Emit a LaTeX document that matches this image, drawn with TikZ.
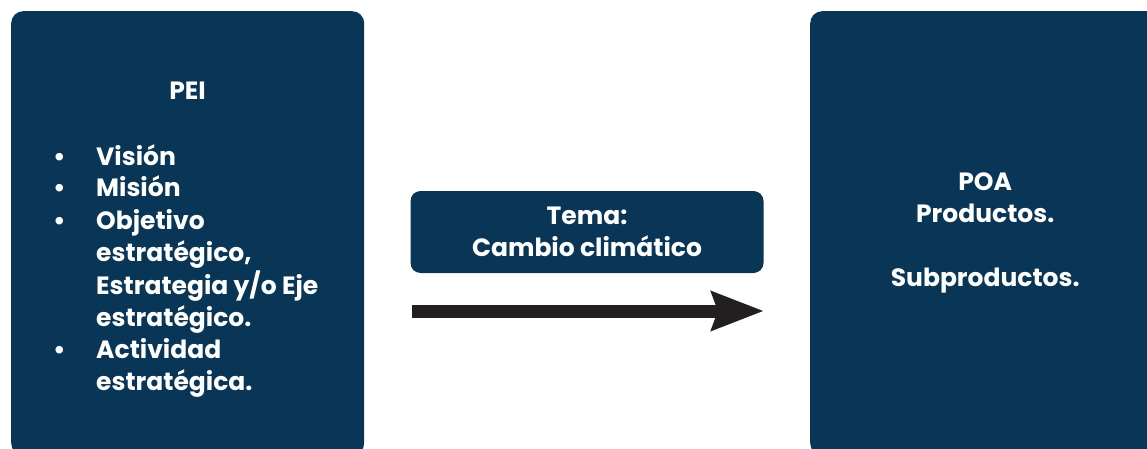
\documentclass[tikz,border=0pt]{standalone}
\usepackage{fontspec}
\setmainfont{Poppins}
\usetikzlibrary{arrows.meta}
\definecolor{navy}{RGB}{9,53,86}
\definecolor{arrowblack}{RGB}{35,31,32}

\begin{document}
\begin{tikzpicture}[x=1pt,y=-1pt,>=Stealth,
  panel/.style={fill=navy,inner sep=0pt},
  label/.style={text=white,font=\bfseries\fontsize{25}{32}\selectfont,align=center,inner sep=0pt}]
\useasboundingbox (0,0) rectangle (1147,449);
\node[panel,rounded corners=12pt,minimum width=353pt,minimum height=444pt,anchor=north west](pei)at(11,11){};
\node[panel,rounded corners=12pt,minimum width=350pt,minimum height=444pt,anchor=north west,label](poa)at(810,11)
  {POA\\Productos.\\[32pt]Subproductos.};
\node[panel,rounded corners=10pt,minimum width=353pt,minimum height=82pt,label](tema)at(587,232)
  {Tema:\\Cambio climático};
\node[label,anchor=base](peititle)at(187.5,100){PEI};
\node[label,anchor=base west,align=left](peilist)at(53,165){%
\begin{tabular}[t]{@{}p{43pt}@{}l@{}}
\textbullet & Visión\\
\textbullet & Misión\\
\textbullet & Objetivo\\
 & estratégico,\\
 & Estrategia y/o Eje\\
 & estratégico.\\
\textbullet & Actividad\\
 & estratégica.
\end{tabular}};
\coordinate(tail)at(412,311);
\coordinate(tip)at(764,311);
\draw[arrowblack,line width=13pt,-{Stealth[length=52pt,width=38pt,inset=6pt]}](tail)--(tip);
\end{tikzpicture}
\end{document}
